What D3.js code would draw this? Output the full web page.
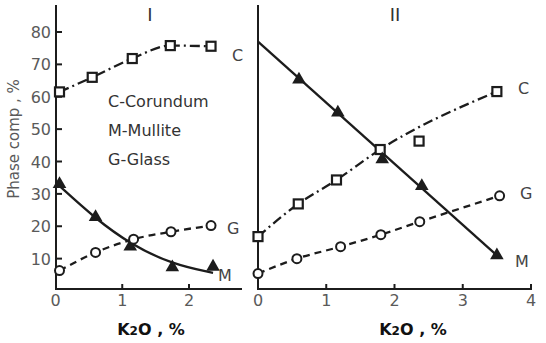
<!DOCTYPE html>
<html><head><meta charset="utf-8">
<script src="https://cdn.jsdelivr.net/npm/d3@7"></script>
<style>
html,body{margin:0;padding:0;background:#fff;}
svg{display:block;}
text{font-family:"DejaVu Sans",sans-serif;}
</style></head>
<body><svg id="c" width="546" height="343"></svg>
<script>
// ---- data ----
const yTicks = [10,20,30,40,50,60,70,80];
const xTicksI = [0,1,2];
const xTicksII = [0,1,2,3,4];
// Panel I
const cI = [[0.06,61.5],[0.55,66],[1.15,71.8],[1.72,75.8],[2.33,75.6]];
const mI = [[0.06,33],[0.6,22.8],[1.12,13.7],[1.75,7.3],[2.36,7.5]];
const mIcurve = [[0.03,33],[0.6,22.3],[1.12,14.5],[1.75,8.2],[2.36,5.6]];
const gI = [[0.06,6.3],[0.6,11.9],[1.17,16],[1.73,18.3],[2.33,20.2]];
// Panel II
const cII = [[0,16.8],[0.59,26.9],[1.15,34.3],[1.79,43.7],[3.5,61.6]];
const cIIextra = [[2.36,46.3]];
const mIIline = [[0,77],[3.5,11]];
const mII = [[0.6,65.3],[1.17,55.1],[1.82,40.7],[2.4,32.4],[3.5,11]];
const gII = [[0,5.4],[0.57,10],[1.21,13.7],[1.8,17.4],[2.37,21.4],[3.54,29.4]];
const legendLines = ["C-Corundum","M-Mullite","G-Glass"];

const svg = d3.select("#c");
const ink = "#1c1c1c";
const y = d3.scaleLinear().domain([0,80]).range([291,32]);
const xI = d3.scaleLinear().domain([0,2]).range([55.5,189]);
const xII = d3.scaleLinear().domain([0,4]).range([258,531]);
const axisY = 289;

function drawX(x, ticks, x0, x1){
  svg.append("line").attr("x1",x0).attr("x2",x1).attr("y1",axisY).attr("y2",axisY)
    .attr("stroke",ink).attr("stroke-width",2);
  ticks.forEach(t=>{
    if(t>0) svg.append("line").attr("x1",x(t)).attr("x2",x(t)).attr("y1",axisY).attr("y2",axisY-5)
      .attr("stroke",ink).attr("stroke-width",2);
    svg.append("text").attr("x",x(t)).attr("y",306).attr("text-anchor","middle")
      .attr("font-size",16).attr("fill","#5a5a5a").text(t);
  });
}
svg.append("line").attr("x1",56).attr("x2",56).attr("y1",5).attr("y2",axisY+1)
  .attr("stroke",ink).attr("stroke-width",2);
yTicks.forEach(t=>{
  svg.append("line").attr("x1",56).attr("x2",62).attr("y1",y(t)).attr("y2",y(t))
    .attr("stroke",ink).attr("stroke-width",2);
  svg.append("text").attr("x",51).attr("y",y(t)+6).attr("text-anchor","end")
    .attr("font-size",16).attr("fill","#5a5a5a").text(t);
});
svg.append("line").attr("x1",258).attr("x2",258).attr("y1",5).attr("y2",axisY+1)
  .attr("stroke",ink).attr("stroke-width",2);
drawX(xI, xTicksI, 55, 242);
drawX(xII, xTicksII, 257, 532);

svg.append("text").attr("transform","translate(19,139) rotate(-90)").attr("text-anchor","middle")
  .attr("font-size",15).attr("fill","#5a5a5a").text("Phase comp , %");
[151,413].forEach(cx=>{
  const t = svg.append("text").attr("x",cx).attr("y",335).attr("text-anchor","middle")
    .attr("font-size",16).attr("fill","#111").attr("font-weight","bold");
  t.append("tspan").text("K");
  t.append("tspan").attr("font-size",12).text("2");
  t.append("tspan").text("O , %");
});
svg.append("text").attr("x",150).attr("y",21).attr("text-anchor","middle")
  .attr("font-family","Liberation Serif").attr("font-size",18).attr("fill","#333").text("I");
svg.append("text").attr("x",395).attr("y",21).attr("text-anchor","middle")
  .attr("font-family","Liberation Serif").attr("font-size",18).attr("fill","#333").text("II");
legendLines.forEach((s,i)=>{
  svg.append("text").attr("x",108).attr("y",107+i*29).attr("font-size",16).attr("fill","#333").text(s);
});

function line(x, data, dash, curve){
  svg.append("path").datum(data)
    .attr("d", d3.line().x(d=>x(d[0])).y(d=>y(d[1])).curve(curve||d3.curveMonotoneX))
    .attr("fill","none").attr("stroke",ink).attr("stroke-width",2.3)
    .attr("stroke-dasharray",dash||null);
}
const dashDot = "10,4,2,4", dashed = "7,5";
line(xI, cI, dashDot);
line(xI, mIcurve, null, d3.curveBasis);
line(xI, gI, dashed);
line(xII, cII, dashDot);
line(xII, mIIline, null, d3.curveLinear);
line(xII, gII, dashed);

function squares(x, data){
  svg.selectAll(null).data(data).enter().append("rect")
    .attr("x",d=>x(d[0])-4.5).attr("y",d=>y(d[1])-4.5).attr("width",9).attr("height",9)
    .attr("fill","#fff").attr("stroke",ink).attr("stroke-width",2.2);
}
function circles(x, data){
  svg.selectAll(null).data(data).enter().append("circle")
    .attr("cx",d=>x(d[0])).attr("cy",d=>y(d[1])).attr("r",4.5)
    .attr("fill","#fff").attr("stroke",ink).attr("stroke-width",2);
}
function triangles(x, data){
  svg.selectAll(null).data(data).enter().append("path")
    .attr("d",d3.symbol().type(d3.symbolTriangle).size(80))
    .attr("transform",d=>`translate(${x(d[0])},${y(d[1])})`)
    .attr("fill",ink);
}
squares(xI, cI); triangles(xI, mI); circles(xI, gI);
squares(xII, cII); squares(xII, cIIextra); triangles(xII, mII); circles(xII, gII);

const lab = [["C",232,61],["G",227,234],["M",218,281],["C",518,94],["G",520,199],["M",515,267]];
lab.forEach(l=>svg.append("text").attr("x",l[1]).attr("y",l[2]).attr("font-size",16).attr("fill","#444").text(l[0]));
</script></body></html>
